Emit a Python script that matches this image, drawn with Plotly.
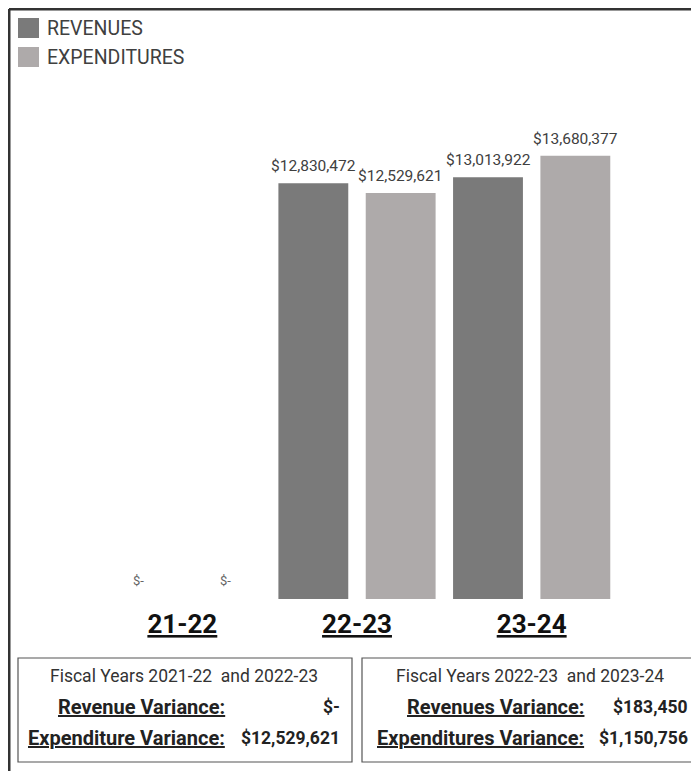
import plotly.graph_objects as go

# fiscal years and totals
years = ["21-22", "22-23", "23-24"]
revenues = [0, 12830472, 13013922]
expenditures = [0, 12529621, 13680377]

series_names = ["REVENUES", "EXPENDITURES"]
series_colors = ["#7a7a7a", "#aeaaaa"]

box_titles = ["Fiscal Years 2021-22\u00a0 and 2022-23", "Fiscal Years 2022-23\u00a0 and 2023-24"]
rev_labels = ["Revenue Variance:", "Revenues Variance:"]
exp_labels = ["Expenditure Variance:", "Expenditures Variance:"]
rev_variance = [0, 183450]
exp_variance = [12529621, 1150756]

FONT = "Roboto"
# page body has an 8px margin, so the figure is shrunk by that much
OFF = 8
W_PX, H_PX = 699 - OFF, 771 - OFF
L, R, T, B = 95 - OFF, 80, 100 - OFF, 172
PW = W_PX - L - R
PH = H_PX - T - B


def fx(px):
    # px measured on the reference picture
    return (px - OFF - L) / PW


def fy(py):
    return (H_PX - B - (py - OFF)) / PH


def money(v):
    return "$-" if v == 0 else f"${v:,.0f}"


def ul(s):
    return f'<span style="text-decoration:underline">{s}</span>'


fig = go.Figure()
for name, vals, col in zip(series_names, [revenues, expenditures], series_colors):
    fig.add_trace(go.Bar(x=years, y=vals, name=name, marker_color=col,
                         marker_line_width=0, showlegend=False, hoverinfo="skip"))

# value labels above the bars
shift = PW / len(years) / 4
for i, yr in enumerate(years):
    for vals, xs in [(revenues, -shift), (expenditures, shift)]:
        v = vals[i]
        fig.add_annotation(x=yr, y=v, xref="x", yref="y", text=money(v),
                           showarrow=False, xshift=xs, yshift=19 if v == 0 else 17,
                           yanchor="middle",
                           font=dict(family=FONT, size=13 if v == 0 else 15.5,
                                     color="#666666" if v == 0 else "#404040"))

shapes = []
annots = []

# outer frame (only top and left visible)
shapes.append(dict(type="line", xref="paper", yref="paper", x0=fx(9), x1=fx(720), y0=fy(9), y1=fy(9),
                   line=dict(color="#333333", width=3)))
shapes.append(dict(type="line", xref="paper", yref="paper", x0=fx(9), x1=fx(9), y0=fy(9), y1=fy(790),
                   line=dict(color="#333333", width=3)))

# legend
for k, (name, col) in enumerate(zip(series_names, series_colors)):
    top = 18 + k * 29
    shapes.append(dict(type="rect", xref="paper", yref="paper", x0=fx(18), x1=fx(39),
                       y0=fy(top), y1=fy(top + 20), fillcolor=col, line_width=0))
    annots.append(dict(x=fx(45), y=fy(top + 11), xref="paper", yref="paper", text=name,
                       showarrow=False, xanchor="left", yanchor="middle",
                       font=dict(family=FONT, size=19.5, color="#404040")))

# variance boxes
boxes = [(18, 352, 184, 227, 342), (362, 695, 530, 586, 690)]
for k, (x0, x1, xc, xl, xv) in enumerate(boxes):
    shapes.append(dict(type="rect", xref="paper", yref="paper", x0=fx(x0), x1=fx(x1),
                       y0=fy(658), y1=fy(762), line=dict(color="#555555", width=1.2)))
    annots.append(dict(x=fx(xc), y=fy(676), xref="paper", yref="paper", text=box_titles[k],
                       showarrow=False, xanchor="center", yanchor="middle",
                       font=dict(family=FONT, size=17.5, color="#333333")))
    for row, (lab, val) in enumerate([(rev_labels[k], rev_variance[k]), (exp_labels[k], exp_variance[k])]):
        yy = fy(707 + row * 31)
        annots.append(dict(x=fx(xl), y=yy, xref="paper", yref="paper", text=ul("<b>" + lab + "</b>"),
                           showarrow=False, xanchor="right", yanchor="middle",
                           font=dict(family=FONT, size=20, color="#222222")))
        annots.append(dict(x=fx(xv), y=yy, xref="paper", yref="paper", text="<b>" + money(val) + "</b>",
                           showarrow=False, xanchor="right", yanchor="middle",
                           font=dict(family=FONT, size=17.5, color="#222222")))

for a in annots:
    fig.add_annotation(**a)

fig.update_layout(
    width=W_PX, height=H_PX,
    margin=dict(l=L, r=R, t=T, b=B),
    paper_bgcolor="white", plot_bgcolor="white",
    barmode="group", bargap=0, bargroupgap=0.2,
    shapes=shapes,
    font=dict(family=FONT),
)
fig.update_xaxes(range=[-0.5, 2.5], tickvals=years, ticktext=[ul("<b>" + y + "</b>") for y in years],
                 tickfont=dict(family=FONT, size=26, color="#111111"),
                 showline=False, showgrid=False, zeroline=False, ticks="", ticklabelstandoff=7)
fig.update_yaxes(range=[0, 15.4e6], visible=False, showgrid=False, zeroline=False)

fig.write_html("out.html")
